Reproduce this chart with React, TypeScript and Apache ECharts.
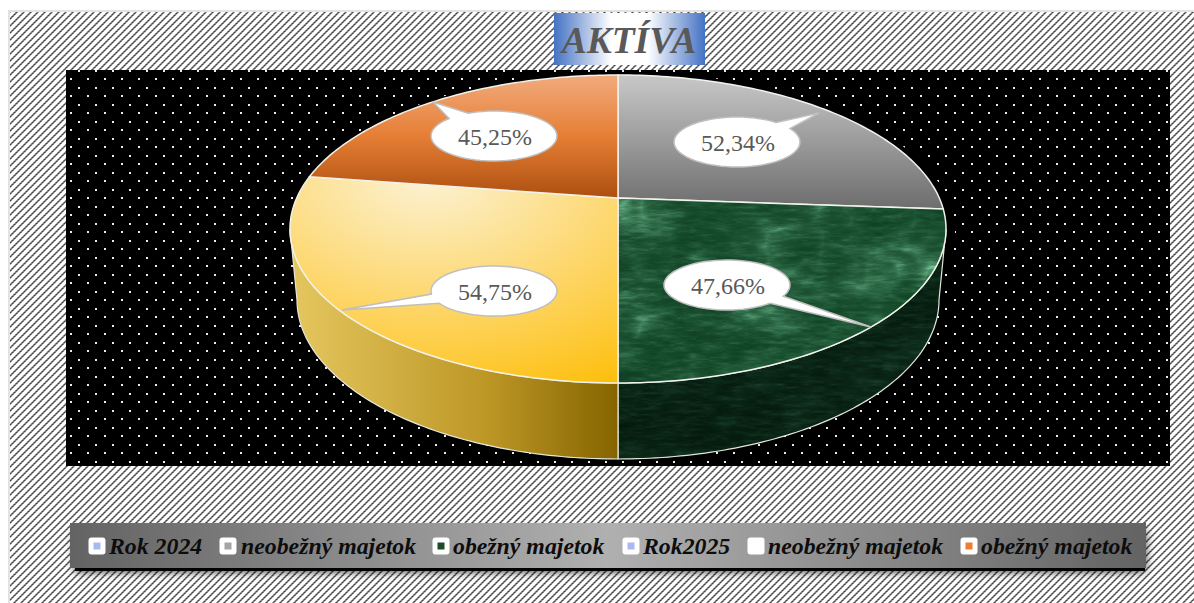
import React, { useEffect, useRef } from "react";
import * as echarts from "echarts";

const TITLE = "AKTÍVA";
const sliceNames = ["neobežný majetok 2024", "obežný majetok 2024", "neobežný majetok 2025", "obežný majetok 2025"];
const sliceValues = [52.34, 47.66, 54.75, 45.25];
const legendLabels = ["Rok 2024", "neobežný majetok", "obežný majetok", "Rok2025", "neobežný majetok", "obežný majetok"];

// Layout / style (not data)
const legendTextX = [109, 241, 453, 643, 768, 981];
const legendMarkX = [97, 228, 441, 631, 756, 969];
const legendInner = ["#a9b8ee", "#a5a5a5", "#1f4a2a", "#a9b8ee", "#ffffff", "#ed7d31"];
const callouts = [
  { c: [737, 142], tip: [819, 113], b1: [777, 122], b2: [792, 128] },
  { c: [727, 285], tip: [871, 327], b1: [787, 297], b2: [772, 304] },
  { c: [494, 291], tip: [342, 310], b1: [440, 303], b2: [432, 294] },
  { c: [494, 136], tip: [433, 102], b1: [448, 118], b2: [468, 113] },
];
const CX = 618, C = -0.2013, A = 107.9, B = 198, AX = 321.3;
const TOP = { cy: 229, rx: 328, ry: 154 };
const BOT = { cy: 300, rx: 321, ry: 159 };

function tile(w: number, h: number, draw: (ctx: CanvasRenderingContext2D) => void) {
  const cv = document.createElement("canvas");
  cv.width = w; cv.height = h;
  draw(cv.getContext("2d")!);
  return { image: cv, repeat: "repeat", imageWidth: w, imageHeight: h };
}

function hash(i: number, j: number) {
  const s = Math.sin(i * 127.1 + j * 311.7) * 43758.5453;
  return s - Math.floor(s);
}
function vnoise(x: number, y: number) {
  const i = Math.floor(x), j = Math.floor(y);
  const f = x - i, g = y - j;
  const u = f * f * (3 - 2 * f), v = g * g * (3 - 2 * g);
  const a = hash(i, j), b = hash(i + 1, j), c = hash(i, j + 1), d = hash(i + 1, j + 1);
  return a + (b - a) * u + (c - a) * v + (a - b - c + d) * u * v;
}
function fbm(x: number, y: number) {
  return 0.5 * vnoise(x, y) + 0.3 * vnoise(x * 2.1 + 5, y * 2.1 + 9) + 0.2 * vnoise(x * 4.3 + 11, y * 4.3 + 3);
}
function marble(low: number[], high: number[], veinGain: number, gain: number, seed: number) {
  return tile(512, 512, (ctx) => {
    const img = ctx.createImageData(512, 512);
    for (let y = 0; y < 512; y++) {
      for (let x = 0; x < 512; x++) {
        const streak = fbm(x / 14 + seed, y / 3);
        const blotch = fbm(x / 60 + 13, y / 38 + seed);
        const ridge = 1 - Math.abs(2 * fbm(x / 75 + seed, y / 60 + 7) - 1);
        const vein = Math.pow(ridge, 5) * Math.pow(blotch, 2.5) * 2.2;
        let t = (0.02 + 0.55 * Math.pow(streak, 2.4) + 0.35 * Math.pow(blotch, 3) + veinGain * vein * (0.5 + streak)) * gain;
        t = Math.min(1, t);
        const p = (y * 512 + x) * 4;
        for (let k = 0; k < 3; k++) img.data[p + k] = low[k] + (high[k] - low[k]) * t;
        img.data[p + 3] = 255;
      }
    }
    ctx.putImageData(img, 0, 0);
  });
}

function project(theta: number) {
  const u = Math.sin(theta), v = -Math.cos(theta), d = 1 + C * v;
  return [CX + (AX * u) / d, (A * v + B) / d];
}
function phiOf(p: number[]) {
  let f = Math.atan2((p[0] - CX) / TOP.rx, -(p[1] - TOP.cy) / TOP.ry);
  if (f < 0) f += Math.PI * 2;
  return f;
}
function onEllipse(e: { cy: number; rx: number; ry: number }, phi: number) {
  return [CX + e.rx * Math.sin(phi), e.cy - e.ry * Math.cos(phi)];
}

function bubblePoints(k: number) {
  const { c, tip, b1, b2 } = callouts[k];
  const rx = 63, ry = 25;
  const ang = (p: number[]) => Math.atan2((p[1] - c[1]) / ry, (p[0] - c[0]) / rx);
  const a1 = ang(b1);
  const a2 = ang(b2);
  let sweep = a1 - a2;
  while (sweep < 0) sweep += Math.PI * 2;
  if (sweep < Math.PI) sweep -= Math.PI * 2;
  const pts: number[][] = [];
  const n = 72;
  for (let i = 0; i <= n; i++) {
    const a = a2 + (sweep * i) / n;
    pts.push([c[0] + rx * Math.cos(a), c[1] + ry * Math.sin(a)]);
  }
  pts.push(tip);
  return pts;
}

export default function App() {
  const ref = useRef<HTMLDivElement>(null);
  useEffect(() => {
    document.body.style.margin = "0";
    const chart = echarts.init(ref.current!, null, { renderer: "svg" });
    const Lin = echarts.graphic.LinearGradient;
    const Rad = echarts.graphic.RadialGradient;

    const hatch = tile(14, 14, (ctx) => {
      const img = ctx.createImageData(14, 14);
      for (let y = 0; y < 14; y++)
        for (let x = 0; x < 14; x++) {
          const d = (x + y) % 7;
          const dist = Math.min(d, 7 - d);
          const g = dist === 0 ? (x % 2 === 0 ? 70 : 110) : dist === 1 ? (x % 2 === 0 ? 170 : 140) : 255;
          const p = (y * 14 + x) * 4;
          img.data[p] = img.data[p + 1] = img.data[p + 2] = g;
          img.data[p + 3] = 255;
        }
      ctx.putImageData(img, 0, 0);
    });
    const dots = tile(17, 17, (ctx) => {
      ctx.fillStyle = "#000";
      ctx.fillRect(0, 0, 17, 17);
      ctx.fillStyle = "#ececec";
      ctx.fillRect(10, 2, 2, 2);
      ctx.fillRect(2, 10, 2, 2);
    });
    const greenTop = marble([12, 62, 32], [120, 200, 155], 0.7, 0.62, 0);
    const greenWall = marble([2, 22, 11], [50, 110, 75], 0.15, 0.75, 40);

    const topFills: any[] = [
      new Lin(0, 0, 0, 1, [{ offset: 0, color: "#c8c8c8" }, { offset: 1, color: "#6d6d6d" }]),
      greenTop,
      new Rad(0.42, 0.0, 1.15, [
        { offset: 0, color: "#fcf2d4" },
        { offset: 0.45, color: "#fddb7c" },
        { offset: 1, color: "#fdbf0c" },
      ]),
      new Lin(0, 0, 0, 1, [
        { offset: 0, color: "#f2ab7d" },
        { offset: 0.5, color: "#e57e35" },
        { offset: 1, color: "#ad4f10" },
      ]),
    ];
    const wallFills: any[] = [
      null,
      greenWall,
      new Lin(0, 0, 1, 0, [
        { offset: 0, color: "#e5c75f" },
        { offset: 0.6, color: "#bd9726" },
        { offset: 1, color: "#856400" },
      ]),
      null,
    ];

    const total = sliceValues.reduce((a, b) => a + b, 0);

    const renderItem = (params: any, api: any) => {
      const i = params.dataIndex;
      const before = sliceValues.slice(0, i).reduce((a, b) => a + b, 0);
      const t0 = (before / total) * Math.PI * 2;
      const t1 = t0 + (api.value(0) / total) * Math.PI * 2;
      const n = 80;
      const rim: number[][] = [];
      for (let k = 0; k <= n; k++) rim.push(project(t0 + ((t1 - t0) * k) / n));
      const children: any[] = [];
      const p0 = Math.max(phiOf(project(t0)), Math.PI / 2);
      let pe = phiOf(project(t1));
      if (pe < 1e-6) pe = Math.PI * 2;
      const p1 = Math.min(pe, Math.PI * 1.5);
      if (wallFills[i] && p1 > p0) {
        const a: number[][] = [], b: number[][] = [];
        for (let k = 0; k <= n; k++) {
          const f = p0 + ((p1 - p0) * k) / n;
          a.push(onEllipse(TOP, f));
          b.unshift(onEllipse(BOT, f));
        }
        children.push({
          type: "polygon",
          shape: { points: a.concat(b) },
          style: { fill: wallFills[i], stroke: "#e4e8dc", lineWidth: 1.2 },
        });
      }
      children.push({
        type: "polygon",
        shape: { points: [[CX, B], ...rim] },
        style: { fill: topFills[i], stroke: "#f2f2ec", lineWidth: 1.5 },
      });
      return { type: "group", children };
    };

    const renderLabels = (params: any, api: any) => {
      const i = params.dataIndex;
      const text = api.value(0).toFixed(2).replace(".", ",") + "%";
      return {
        type: "group",
        children: [
          {
            type: "polygon",
            shape: { points: bubblePoints(i) },
            style: { fill: "#ffffff", stroke: "#bfbfbf", lineWidth: 1.5 },
          },
          {
            type: "text",
            x: callouts[i].c[0] + 1,
            y: callouts[i].c[1] + 1,
            style: {
              text,
              fill: "#595959",
              font: "24px 'Liberation Serif'",
              align: "center",
              verticalAlign: "middle",
            },
          },
        ],
      };
    };

    const legendChildren: any[] = [];
    legendLabels.forEach((t, i) => {
      legendChildren.push({
        type: "rect", z: 12,
        shape: { x: legendMarkX[i] - 8.5, y: 537.5, width: 17, height: 17, r: 3 },
        style: { fill: "#ffffff" },
      });
      legendChildren.push({
        type: "rect", z: 13,
        shape: { x: legendMarkX[i] - 3.5, y: 542.5, width: 7, height: 7 },
        style: { fill: legendInner[i] },
      });
      legendChildren.push({
        type: "text", z: 13,
        x: legendTextX[i], y: 546,
        style: {
          text: t,
          fill: "#0d0d0d",
          font: "italic bold 23.8px 'Liberation Serif'",
          align: "left",
          verticalAlign: "middle",
        },
      });
    });

    chart.setOption({
      animation: false,
      tooltip: { show: false },
      graphic: [
        { type: "rect", z: 1, shape: { x: 8, y: 10, width: 1186, height: 593 }, style: { fill: "#e2e2e2" } },
        { type: "rect", z: 2, shape: { x: 10, y: 12, width: 1184, height: 591 }, style: { fill: hatch } },
        { type: "rect", z: 3, shape: { x: 66, y: 70, width: 1104, height: 396 }, style: { fill: dots } },
        { type: "ellipse", z: 4, shape: { cx: 621, cy: 232, rx: 334, ry: 160 }, style: { fill: "#000" } },
        {
          type: "rect", z: 5,
          shape: { x: 554, y: 13, width: 151, height: 52 },
          style: {
            fill: new Lin(0, 0, 1, 0, [
              { offset: 0, color: "#4472c4" },
              { offset: 0.38, color: "#ffffff" },
              { offset: 0.62, color: "#ffffff" },
              { offset: 1, color: "#4472c4" },
            ]),
          },
        },
        {
          type: "text", z: 6, x: 629, y: 40,
          style: {
            text: TITLE,
            fill: "#595959",
            font: "italic bold 37.5px 'Liberation Serif'",
            align: "center",
            verticalAlign: "middle",
          },
        },
        {
          type: "rect", z: 9,
          shape: { x: 75, y: 530, width: 1070, height: 41 },
          style: { fill: "#000", shadowColor: "rgba(0,0,0,0.9)", shadowBlur: 10 },
        },
        {
          type: "rect", z: 10,
          shape: { x: 70, y: 523, width: 1076, height: 45 },
          style: {
            fill: new Lin(0, 0, 1, 0, [
              { offset: 0, color: "#636363" },
              { offset: 0.5, color: "#b0b0b0" },
              { offset: 1, color: "#636363" },
            ]),
          },
        },
        ...legendChildren,
      ],
      series: [
        {
          type: "custom",
          coordinateSystem: "none",
          silent: true,
          z: 20,
          renderItem,
          data: sliceValues.map((v, i) => ({ name: sliceNames[i], value: [v] })),
        },
        {
          type: "custom",
          coordinateSystem: "none",
          silent: true,
          z: 21,
          renderItem: renderLabels,
          data: sliceValues.map((v, i) => ({ name: sliceNames[i], value: [v] })),
        },
      ],
    });
    return () => chart.dispose();
  }, []);
  return <div ref={ref} style={{ width: 1194, height: 603 }} />;
}
